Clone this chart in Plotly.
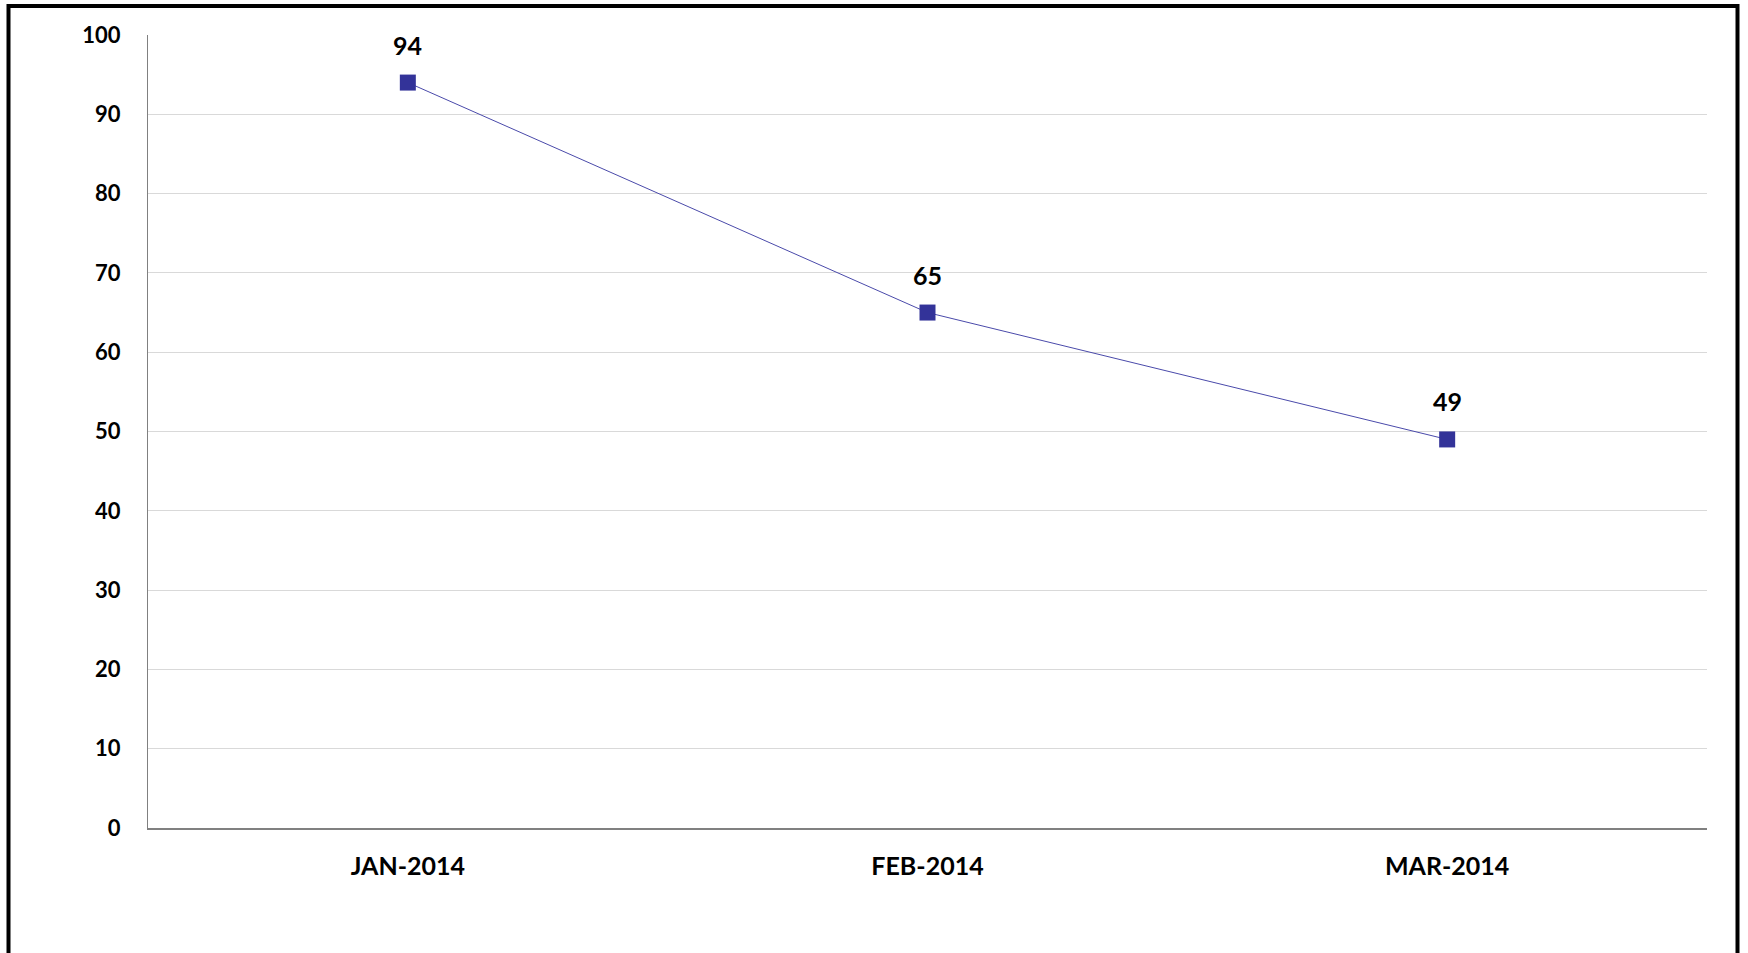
import plotly.graph_objects as go

months = ["JAN-2014", "FEB-2014", "MAR-2014"]
values = [94, 65, 49]
y_ticks = [0, 10, 20, 30, 40, 50, 60, 70, 80, 90, 100]

W, H = 1748, 953
L, R, T, B = 148, 41, 35, 125
pw, ph = W - L - R, H - T - B

color = "#333399"
font_family = "Lato, 'Open Sans', sans-serif"

fig = go.Figure()
fig.add_trace(go.Scatter(
    x=months, y=values, mode="lines+markers",
    line=dict(color="#4a4aaa", width=1),
    marker=dict(symbol="square", size=16, color=color),
    hoverinfo="skip", showlegend=False,
))

for m, v in zip(months, values):
    fig.add_annotation(x=m, y=v, text=f"<b>{v}</b>", showarrow=False,
                       yanchor="bottom", yshift=21,
                       font=dict(family=font_family, size=25, color="black"))

# outer border (left/top/right visible, bottom off-page)
def px_to_paper_x(px):
    return (px - L) / pw
def px_to_paper_y(py):
    return (H - B - py) / ph

fig.add_shape(type="rect", xref="paper", yref="paper",
              x0=px_to_paper_x(8.5), x1=px_to_paper_x(1737.5),
              y0=px_to_paper_y(1000), y1=px_to_paper_y(6),
              line=dict(color="black", width=4), fillcolor="rgba(0,0,0,0)", layer="above")

fig.update_layout(
    width=W, height=H,
    margin=dict(l=L, r=R, t=T, b=B),
    paper_bgcolor="white", plot_bgcolor="white",
    font=dict(family=font_family, color="black"),
    xaxis=dict(
        type="category", range=[-0.5, 2.5],
        showgrid=False, showline=True, linecolor="#808080", linewidth=2,
        ticks="", tickfont=dict(family=font_family, size=25, color="black"),
        ticklabelstandoff=15, tickprefix="<b>", ticksuffix="</b>",
        zeroline=False, fixedrange=True,
    ),
    yaxis=dict(
        range=[0, 100], tickvals=y_ticks, ticktext=[f"<b>{t}</b>" for t in y_ticks],
        showgrid=True, gridcolor="#d9d9d9", gridwidth=1,
        showline=True, linecolor="#808080", linewidth=1,
        ticks="", tickfont=dict(family=font_family, size=22, color="black"),
        ticklabelstandoff=22, zeroline=False, fixedrange=True,
    ),
)

fig.write_html("out.html", config={"displayModeBar": False},
               post_script="document.body.style.margin='0';document.body.style.overflow='hidden';")
